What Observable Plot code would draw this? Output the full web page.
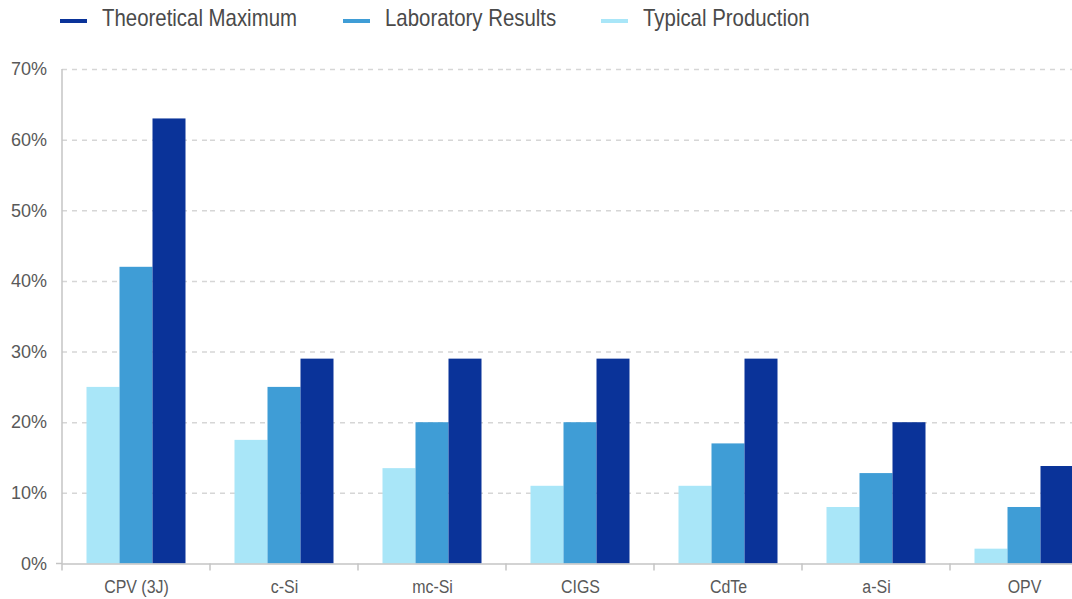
<!DOCTYPE html>
<html>
<head>
<meta charset="utf-8">
<script src="https://cdn.jsdelivr.net/npm/d3@7"></script>
<script src="https://cdn.jsdelivr.net/npm/@observablehq/plot@0.6"></script>
<style>
  html, body { margin: 0; padding: 0; background: #fff; overflow: hidden; }
  body { width: 1072px; height: 599px; font-family: "Liberation Sans", Arial, sans-serif; }
  #legend { height: 40px; position: relative; }
  .item { position: absolute; top: 0; height: 40px; }
  .sw { position: absolute; left: 0; top: 18.5px; width: 27px; height: 4.5px; }
  .lbl { position: absolute; left: 42px; top: 0; font-size: 24px; color: #4a4a4a; line-height: 36px; white-space: nowrap; transform: scaleX(0.85); transform-origin: 0 50%; }
  #chart svg { display: block; overflow: visible; max-width: none !important; }
</style>
</head>
<body>
<div id="legend"></div>
<div id="chart"></div>
<script>
const categories = ["CPV (3J)", "c-Si", "mc-Si", "CIGS", "CdTe", "a-Si", "OPV"];
const seriesNames = ["Typical Production", "Laboratory Results", "Theoretical Maximum"];
const typicalProduction = [25, 17.5, 13.5, 11, 11, 8, 2.1];
const laboratoryResults = [42, 25, 20, 20, 17, 12.8, 8];
const theoreticalMaximum = [63, 29, 29, 29, 29, 20, 13.8];
const yTicks = [0, 10, 20, 30, 40, 50, 60, 70];
const seriesColors = ["#a9e6f8", "#3f9dd6", "#0a3399"];
const legendOrder = ["Theoretical Maximum", "Laboratory Results", "Typical Production"];
const legendLeft = [60, 343, 601];

const valuesBySeries = [typicalProduction, laboratoryResults, theoreticalMaximum];
const data = categories.flatMap((c, i) =>
  seriesNames.map((s, j) => ({category: c, series: s, value: valuesBySeries[j][i]}))
);

// Legend
const legend = document.getElementById("legend");
legendOrder.forEach((name, k) => {
  const item = document.createElement("div");
  item.className = "item";
  item.style.left = legendLeft[k] + "px";
  const sw = document.createElement("div");
  sw.className = "sw";
  sw.style.background = seriesColors[seriesNames.indexOf(name)];
  const lbl = document.createElement("span");
  lbl.className = "lbl";
  lbl.textContent = name;
  item.appendChild(sw);
  item.appendChild(lbl);
  legend.appendChild(item);
});

const plot = Plot.plot({
  width: 1100,
  height: 559,
  marginTop: 29,
  marginBottom: 35.5,
  marginLeft: 59.5,
  marginRight: 0,
  style: {fontFamily: '"Liberation Sans", Arial, sans-serif', color: "#595959", background: "white", overflow: "visible", maxWidth: "none"},
  fx: {domain: categories, padding: 0, label: null},
  x: {domain: seriesNames, paddingInner: 0, paddingOuter: 0.73, axis: null},
  y: {domain: [0, 70], label: null},
  color: {domain: seriesNames, range: seriesColors},
  marks: [
    Plot.gridY(yTicks.filter(d => d > 0), {stroke: "#d6d6d6", strokeOpacity: 1, strokeWidth: 1.5, strokeDasharray: "5,5"}),
    Plot.barY(data, {fx: "category", x: "series", y: "value", fill: "series"}),
    Plot.ruleY([0], {stroke: "#c4c4c4", strokeWidth: 1.5}),
    Plot.axisY(yTicks, {tickSize: 0, tickPadding: 15.5, tickFormat: d => d + "%", fontSize: 18, label: null}),
    Plot.axisFx({anchor: "bottom", tickSize: 0, tickPadding: 15, fontSize: 19, label: null})
  ]
});

// Axis line and category boundary ticks, placed through the plot's own scales
const fxS = plot.scale("fx");
const yS = plot.scale("y");
const svg = d3.select(plot.tagName === "svg" ? plot : plot.querySelector("svg"));
svg.style("max-width", "none");
const g = svg.append("g").attr("stroke", "#c4c4c4").attr("stroke-width", 1.5);
const x0 = fxS.apply(categories[0]);
const y0 = yS.apply(0);
g.append("line").attr("x1", x0).attr("x2", x0).attr("y1", y0).attr("y2", yS.apply(70));
g.append("line").attr("x1", x0 - 6).attr("x2", x0).attr("y1", y0).attr("y2", y0);
const bounds = categories.map(c => fxS.apply(c)).concat([fxS.apply(categories[categories.length - 1]) + fxS.step]);
bounds.forEach(bx => {
  g.append("line").attr("x1", bx).attr("x2", bx).attr("y1", y0).attr("y2", y0 + 7);
});

// Condense the category labels horizontally
svg.selectAll('[aria-label="fx-axis tick label"] text').each(function() {
  const t = d3.select(this);
  const tr = t.attr("transform") || "";
  t.attr("transform", tr + " scale(0.84,1)");
});

document.getElementById("chart").appendChild(plot);
</script>
</body>
</html>
